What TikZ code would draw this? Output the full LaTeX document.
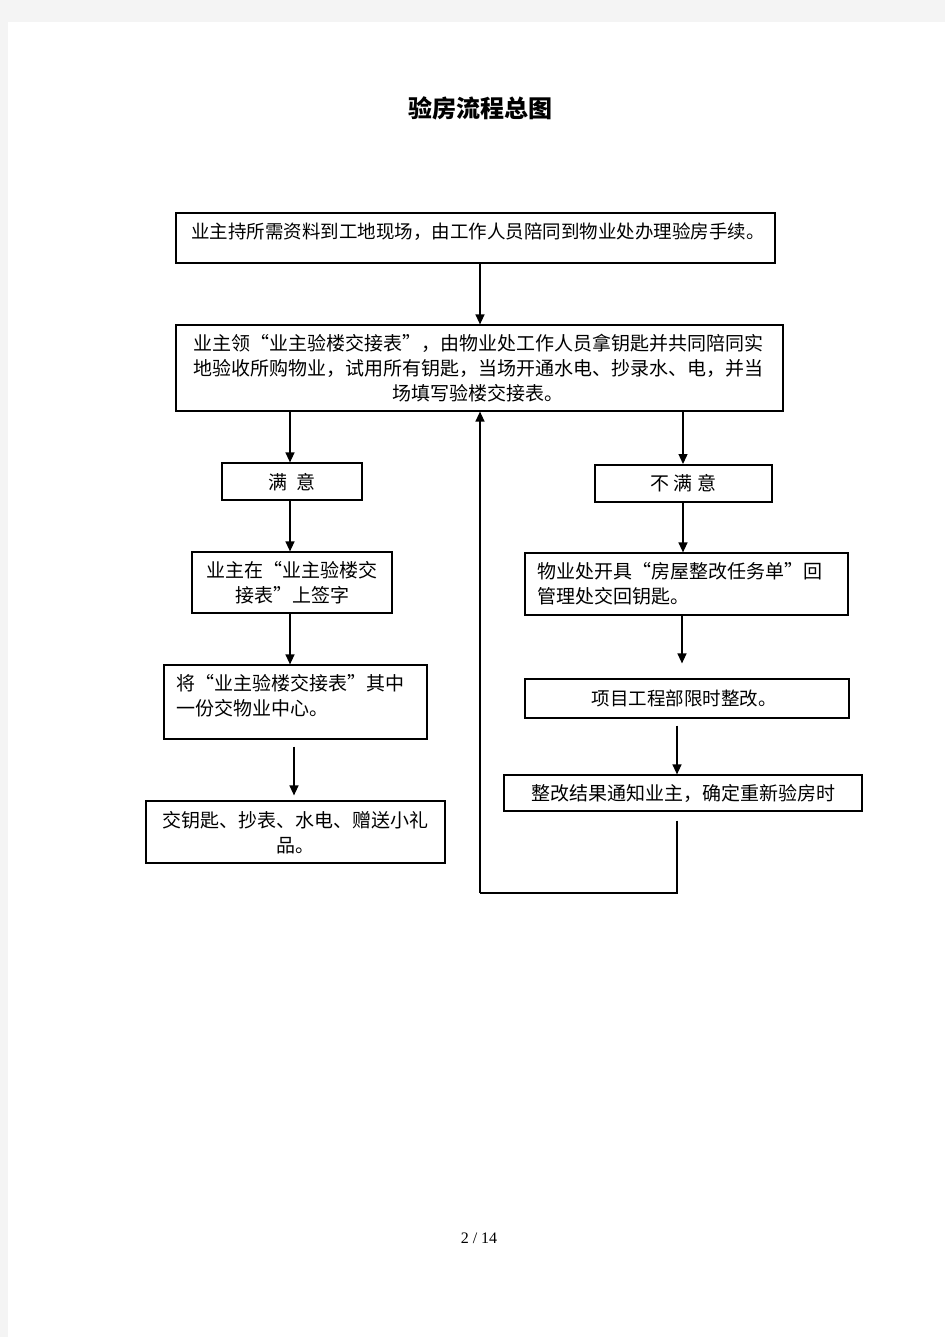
\documentclass[tikz,border=0pt]{standalone}
\usepackage{fontspec}
\setmainfont{Noto Sans CJK SC}
\newfontfamily\pagefont{Liberation Serif}
\usetikzlibrary{arrows.meta}
\definecolor{pagegray}{HTML}{F4F4F4}
\newcommand\oq{\makebox[1em][r]{“}}
\newcommand\cq{\makebox[1em][l]{”}}
\tikzset{
  box/.style={draw=black, line width=1.2pt, inner sep=0pt},
  txt/.style={inner sep=0pt, font=\fontsize{18.5pt}{25pt}\selectfont},
  txtw/.style={inner sep=0pt, font=\fontsize{19pt}{25pt}\selectfont},
  arr/.style={-{Triangle[length=10pt,width=9pt]}, line width=1.3pt},
  plain/.style={line width=1.3pt}
}
\begin{document}
\begin{tikzpicture}[x=1pt,y=-1pt]
\fill[pagegray] (0,0) rectangle (945,1337);
\fill[white] (8,22) rectangle (945,1337);
\useasboundingbox (0,0) rectangle (945,1337);

\node[inner sep=0pt, font=\fontsize{24pt}{28pt}\selectfont\bfseries] (title) at (480,108) {验房流程总图};

% boxes
\node[box, minimum width=599pt, minimum height=50pt] (b1) at (475.5,238) {};
\node[txt] (b1t) at (478,232) {业主持所需资料到工地现场，由工作人员陪同到物业处办理验房手续。};

\node[box, minimum width=607pt, minimum height=86pt] (b2) at (479.5,368) {};
\node[txtw, align=center] (b2t) at (478,368) {业主领\oq 业主验楼交接表\cq，由物业处工作人员拿钥匙并共同陪同实\\地验收所购物业，试用所有钥匙，当场开通水电、抄录水、电，并当\\场填写验楼交接表。};

\node[box, minimum width=140pt, minimum height=37pt] (s1) at (292,481.5) {};
\node[txtw] (s1t) at (292,482) {满\ \ 意};

\node[box, minimum width=200pt, minimum height=61pt] (s2) at (292,582.5) {};
\node[txtw, align=center] (s2t) at (292,582.5) {业主在\oq 业主验楼交\\接表\cq 上签字};

\node[box, minimum width=263pt, minimum height=74pt] (s3) at (295.5,702) {};
\node[txtw, align=left, anchor=west] (s3t) at (176,695.5) {将\oq 业主验楼交接表\cq 其中\\一份交物业中心。};

\node[box, minimum width=299pt, minimum height=62pt] (s4) at (295.5,832) {};
\node[txtw, align=center] (s4t) at (295.5,832.5) {交钥匙、抄表、水电、赠送小礼\\品。};

\node[box, line width=2pt, minimum width=177pt, minimum height=37pt] (n1) at (683.5,483.5) {};
\node[txtw] (n1t) at (683.5,483) {不\ 满\ 意};

\node[box, minimum width=323pt, minimum height=62pt] (n2) at (686.5,584) {};
\node[txtw, align=left, anchor=west] (n2t) at (537,584) {物业处开具\oq 房屋整改任务单\cq 回\\管理处交回钥匙。};

\node[box, minimum width=324pt, minimum height=39pt] (n3) at (687,698.5) {};
\node[txt] (n3t) at (684,698) {项目工程部限时整改。};

\node[box, minimum width=358pt, minimum height=36pt] (n4) at (683,793) {};
\node[txtw] (n4t) at (683,793) {整改结果通知业主，确定重新验房时};

\node[inner sep=0pt, font=\pagefont\fontsize{16pt}{18pt}\selectfont] (pg) at (479,1238) {2 / 14};

% x positions of connectors
\coordinate (xm) at (480,0);
\coordinate (xl) at (290,0);
\coordinate (xl2) at (294,0);
\coordinate (xr) at (683,0);
\coordinate (xr2) at (682,0);
\coordinate (xr3) at (677,0);
\coordinate (lb) at (480,893);

% connectors
\draw[arr] (b1.south -| xm) -- (b2.north -| xm);
\draw[arr] (b2.south -| xl) -- (s1.north -| xl);
\draw[arr] (s1.south -| xl) -- (s2.north -| xl);
\draw[arr] (s2.south -| xl) -- (s3.north -| xl);
\draw[arr, shorten <=7pt, shorten >=5pt] (s3.south -| xl2) -- (s4.north -| xl2);
\draw[arr] (b2.south -| xr) -- (n1.north -| xr);
\draw[arr] (n1.south -| xr) -- (n2.north -| xr);
\draw[arr, shorten >=15pt] (n2.south -| xr2) -- (n3.north -| xr2);
\draw[arr, shorten <=7pt] (n3.south -| xr3) -- (n4.north -| xr3);
\draw[plain] ([yshift=-9pt]n4.south -| xr3) -- (lb -| xr3) -- (lb);
\draw[arr] (lb) -- (b2.south -| xm);
\end{tikzpicture}
\end{document}
